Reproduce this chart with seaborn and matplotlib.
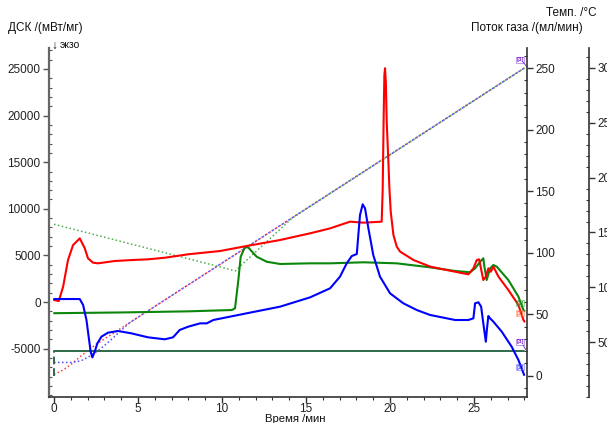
import numpy as np
import pandas as pd
import matplotlib
matplotlib.use("Agg")
import matplotlib.pyplot as plt
from matplotlib.ticker import MultipleLocator
import seaborn as sns

# ---------------- data ----------------
t_red = [0.00, 0.28, 0.54, 0.83, 1.13, 1.53, 1.83, 2.02, 2.32, 2.62, 3.61, 4.6, 5.6, 6.59,
         7.98, 9.88, 11.47, 13.45, 15.24, 16.43, 17.62, 18.41, 19.5, 19.56, 19.62, 19.66,
         19.7, 19.75, 19.8, 19.9, 19.96, 20.04, 20.2, 20.4, 20.6, 21.4, 22.4, 23.87, 24.66,
         24.96, 25.16, 25.3, 25.55, 25.7, 25.85, 26.0, 26.15, 26.45, 27.04, 27.64, 27.94, 28.0]
dsc_red = [215, 100, 1640, 4500, 6100, 6830, 5760, 4690, 4220, 4150, 4400, 4500, 4580, 4750,
           5120, 5470, 6010, 6650, 7370, 7900, 8620, 8510, 8620, 12000, 20000, 24300,
           25080, 23500, 19350, 15050, 12200, 9690, 7190, 5930, 5400, 4500, 3790, 3250, 2970,
           3610, 4500, 4580, 2360, 2720, 3610, 3250, 3790, 2720, 1290, -320, -1930, -2100]

t_green = [0.0, 4.0, 8.0, 10.58, 10.77, 10.97, 11.11, 11.37, 11.57, 12.06, 12.66, 13.45,
           15.24, 16.43, 18.41, 20.4, 22.38, 23.87, 24.76, 25.06, 25.36, 25.55, 25.6, 25.75,
           25.95, 26.15, 26.35, 27.04, 27.64, 27.94, 28.0]
dsc_green = [-1200, -1120, -1000, -860, -680, 2360, 4860, 5930, 5830, 4860, 4320, 4080,
             4150, 4150, 4260, 4150, 3720, 3330, 3190, 3610, 4320, 4690, 3970, 2360,
             3610, 3970, 3790, 2360, 570, -860, -950]

t_blue = [0.0, 1.53, 1.73, 1.93, 2.06, 2.18, 2.28, 2.42, 2.58, 2.82, 3.21, 3.81, 4.6, 5.6,
          6.59, 7.08, 7.48, 7.98, 8.69, 9.09, 9.48, 11.47, 13.45, 15.24, 16.43, 17.02, 17.42,
          17.72, 18.02, 18.11, 18.21, 18.37, 18.51, 18.71, 19.0, 19.4, 20.0, 20.79, 21.59,
          22.38, 23.87, 24.66, 24.96, 25.06, 25.26, 25.42, 25.55, 25.7, 25.76, 25.85, 25.95,
          26.15, 26.65, 27.24, 27.64, 27.98]
dsc_blue = [320, 320, -320, -1930, -3720, -5330, -5940, -5330, -4430, -3720, -3290, -3110,
            -3360, -3790, -4000, -3790, -3000, -2650, -2290, -2290, -1930, -1210, -500, 500,
            1470, 2720, 4150, 4930, 5150, 7190, 9330, 10480, 10050, 7900, 5040, 2720, 930,
            -140, -860, -1390, -1930, -1930, -1750, -140, -30, -500, -2290, -4260, -3000,
            -1500, -1750, -2110, -3190, -4800, -6220, -7830]

t_temp_red = [0.0, 0.5, 1.0, 1.5, 2.0, 2.5, 28.0]
temp_red = [20.5, 24.3, 29.5, 36.0, 42.3, 48.0, 300.0]
t_temp_blue = [0.0, 1.1, 1.6, 2.0, 2.6, 3.2, 3.8, 4.5, 28.0]
temp_blue = [31.5, 31.5, 33.0, 36.0, 42.0, 49.5, 58.0, 67.8, 300.0]
t_temp_green = [0.0, 10.8, 11.2, 14.2, 28.0]
temp_green = [157.5, 115.0, 121.0, 163.5, 300.0]

t_gas = [0.0, 28.0]
gas = [20.0, 20.0]
t_gas_start = [0.0, 0.0]
gas_start = [0.0, 20.0]

x_ticks = [0, 5, 10, 15, 20, 25]
dsc_ticks = [-5000, 0, 5000, 10000, 15000, 20000, 25000]
gas_ticks = [0, 50, 100, 150, 200, 250]
temp_ticks = [50, 100, 150, 200, 250, 300]

# ---------------- style ----------------
sns.set_style("white")
plt.rcParams['font.family'] = ['Liberation Sans', 'DejaVu Sans']
plt.rcParams['font.size'] = 8
plt.rcParams['axes.unicode_minus'] = False

W, H = 607, 423
fig = plt.figure(figsize=(W / 100, H / 100), dpi=100)
ax = fig.add_axes([49 / W, 1 - 397 / H, (527 - 49) / W, (397 - 48) / H])
ax.patch.set_alpha(0)
ax2 = ax.twinx()
ax3 = ax.twinx()
ax3.spines['right'].set_position(('axes', (589 - 49) / (527 - 49)))

RED, GREEN, BLUE = '#ff0000', '#0a860a', '#0000ff'
GAS = '#2d6a4a'

# temperature (dotted)
for tt, vv, c in [(t_temp_red, temp_red, '#ff3b3b'), (t_temp_green, temp_green, '#4caf4c'),
                  (t_temp_blue, temp_blue, '#4d4dff')]:
    sns.lineplot(x=tt, y=vv, ax=ax3, color=c, lw=1.1, linestyle=(0, (1, 1.6)),
                 estimator=None, sort=False, legend=False)

# gas flow
sns.lineplot(x=t_gas, y=gas, ax=ax2, color=GAS, lw=1.4, estimator=None, sort=False, legend=False)
sns.lineplot(x=t_gas_start, y=gas_start, ax=ax2, color=GAS, lw=1.4, linestyle=(0, (4, 2)),
             estimator=None, sort=False, legend=False)

# DSC curves
for tt, vv, c in [(t_green, dsc_green, GREEN), (t_red, dsc_red, RED), (t_blue, dsc_blue, BLUE)]:
    sns.lineplot(x=tt, y=vv, ax=ax, color=c, lw=1.5, estimator=None, sort=False, legend=False)

ax.set_zorder(3)
ax2.set_zorder(2)
ax3.set_zorder(1)
ax2.patch.set_alpha(0)

ax.set_xlim(-0.30, 28.15)
ax.set_ylim(-10190, 27250)
ax2.set_ylim(-17.3, 266.4)
ax3.set_ylim(0.0, 318.2)

ax.set_xticks(x_ticks)
ax.xaxis.set_minor_locator(MultipleLocator(1))
ax.set_yticks(dsc_ticks)
ax.yaxis.set_minor_locator(MultipleLocator(1000))
ax2.set_yticks(gas_ticks)
ax2.yaxis.set_minor_locator(MultipleLocator(10))
ax3.set_yticks(temp_ticks)
ax3.yaxis.set_minor_locator(MultipleLocator(10))
ax.set_xlabel('')
ax.set_ylabel('')
ax2.set_ylabel('')
ax3.set_ylabel('')

for a in (ax, ax2, ax3):
    for s in a.spines.values():
        s.set_visible(False)
ax.spines['left'].set_visible(True)
ax.spines['left'].set_color('#666666')
ax.spines['left'].set_linewidth(1.6)
ax.spines['bottom'].set_visible(True)
ax.spines['bottom'].set_color('#333333')
ax.spines['bottom'].set_linewidth(1.2)
ax2.spines['right'].set_visible(True)
ax2.spines['right'].set_color('#333333')
ax2.spines['right'].set_linewidth(1.2)
ax3.spines['right'].set_visible(True)
ax3.spines['right'].set_color('#333333')
ax3.spines['right'].set_linewidth(1.2)

ax.tick_params(axis='x', which='major', direction='out', length=4, width=1, colors='#333333',
               labelsize=8.5, labelcolor='#222222', pad=0.5, bottom=True)
ax.tick_params(axis='x', which='minor', direction='out', length=2.5, width=0.8, colors='#333333', bottom=True)
ax.tick_params(axis='y', which='major', direction='out', length=4, width=1, colors='#555555',
               labelsize=8.5, labelcolor='#222222', pad=2, left=True)
ax.tick_params(axis='y', which='minor', direction='in', length=2.5, width=0.8, colors='#555555', left=True)
for a in (ax2, ax3):
    a.tick_params(axis='y', which='major', direction='out', length=4, width=1, colors='#333333',
                  labelsize=8.5, labelcolor='#222222', pad=2, right=True)
    a.tick_params(axis='y', which='minor', direction='in', length=2.5, width=0.8,
                  colors='#333333', right=True)

# texts
fig.text(8 / W, 1 - 28 / H, 'ДСК /(мВт/мг)', fontsize=8.5, va='center', ha='left', color='#111111')
fig.text(51 / W, 1 - 46 / H, '↓', fontsize=8.5, va='center', ha='left', color='#111111')
fig.text(60 / W, 1 - 45 / H, 'экзо', fontsize=7.5, va='center', ha='left', color='#111111')
fig.text(583 / W, 1 - 28 / H, 'Поток газа /(мл/мин)', fontsize=8.5, va='center', ha='right', color='#111111')
fig.text(546 / W, 1 - 13 / H, 'Темп. /°C', fontsize=8.5, va='center', ha='left', color='#111111')
fig.text(295 / W, 1 - 422 / H, 'Время /мин', fontsize=8.2, va='baseline', ha='center', color='#111111')

# curve end markers
def mark(xp, yp, s, c):
    fig.text(xp / W, 1 - yp / H, s, fontsize=4.5, color=c, ha='center', va='center',
             fontweight='bold',
             bbox=dict(boxstyle='square,pad=0.1', fc='none', ec=c, lw=0.4, alpha=0.8))

mark(520, 60, '[3]', '#7a1fd1')
mark(520, 303, '[1]', '#2e9a2e')
mark(520, 313, '[1]', '#ff6a3a')
mark(520, 342, '[3]', '#7a1fd1')
mark(520, 367, '[1]', '#4a4aff')
fig.add_artist(plt.Line2D([523 / W, 527 / W], [1 - 62 / H, 1 - 67 / H], color='#7a1fd1', lw=0.6))
fig.add_artist(plt.Line2D([523 / W, 526 / W], [1 - 345 / H, 1 - 350 / H], color='#7a1fd1', lw=0.6))

fig.savefig('out.png', dpi=100)
